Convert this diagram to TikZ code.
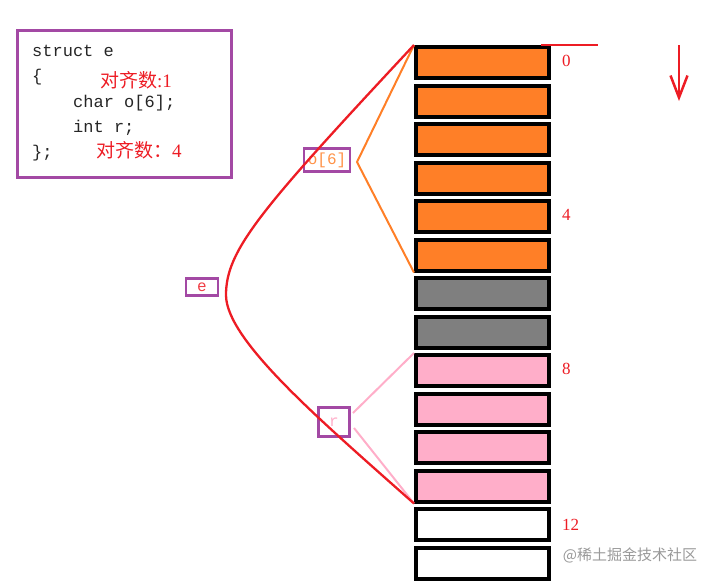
\documentclass[tikz,border=0pt]{standalone}
\usepackage{fontspec}
\setmainfont{Liberation Serif}
\setmonofont{Liberation Mono}
\newfontfamily\cjk{Noto Sans CJK SC}
\usetikzlibrary{arrows.meta,calc}
\newcommand\myfs[1]{\fontsize{#1}{#1}\selectfont}
\definecolor{porange}{HTML}{FF7F27}
\definecolor{pgray}{HTML}{7F7F7F}
\definecolor{ppink}{HTML}{FFAEC9}
\definecolor{ppurple}{HTML}{A349A4}
\definecolor{pred}{HTML}{ED1C24}
\tikzset{
  cell/.style={draw=black, line width=4pt, minimum width=133pt, minimum height=31pt, inner sep=0pt},
  tag/.style={draw=ppurple, line width=2.6pt, inner sep=0pt, font=\ttfamily\myfs{16pt}},
  code/.style={anchor=base west, inner sep=0pt, font=\ttfamily\myfs{17pt}, text=black!85},
  note/.style={anchor=base west, inner sep=0pt, font=\myfs{19pt}, text=pred},
  offs/.style={anchor=west, inner sep=0pt, font=\myfs{17pt}, text=pred},
  redline/.style={draw=pred, line width=2.3pt},
}
\begin{document}
\begin{tikzpicture}[x=1pt,y=-1pt]
\useasboundingbox (0,0) rectangle (715,582);
% code box
\node (codebox) [draw=ppurple, line width=3pt, minimum width=214pt, minimum height=147pt, inner sep=0pt] at (124.5,104) {};
\node (c1) [code] at (32,56) {struct e};
\node (c2) [code] at (32,81) {\{};
\node (c3) [code] at (73,107) {char o[6];};
\node (c4) [code] at (73,132) {int r;};
\node (c5) [code] at (32,157) {\};};
\node (n1) [note] at (100,87) {{\cjk 对齐数}:1};
\node (n2) [note] at (96,157) {{\cjk 对齐数：}4};
% memory cells
\foreach \i in {0,...,5}{
  \node (b\i) [cell, fill=porange] at (482.5,62.5+38.5*\i) {};
}
\foreach \i in {6,7}{
  \node (b\i) [cell, fill=pgray] at (482.5,62.5+38.5*\i) {};
}
\foreach \i in {8,...,11}{
  \node (b\i) [cell, fill=ppink] at (482.5,62.5+38.5*\i) {};
}
\foreach \i in {12,13}{
  \node (b\i) [cell, fill=white] at (482.5,62.5+38.5*\i) {};
}
% offsets
\node (o0) [offs] at (562,61) {0};
\node (o4) [offs] at (562,215) {4};
\node (o8) [offs] at (562,369) {8};
\node (o12) [offs] at (562,525) {12};
% tags
\node (to) [tag, minimum width=46pt, minimum height=23pt, text=porange!85] at (327,160) {o[6]};
\node (te) [tag, minimum width=32pt, minimum height=17pt, text=pred!85] at (202,287) {e};
\node (tr) [tag, minimum width=31pt, minimum height=29pt, text=ppink] at (334,422) {r};
% orange brace
\coordinate (oa) at (357,162);
\draw[porange, line width=2pt] (b0.north west) -- (oa) -- (b5.south west);
% pink brace
\coordinate (pa) at (353,413);
\coordinate (pb) at (354,428);
\draw[ppink, line width=2pt] (pa) -- (b8.north west);
\draw[ppink, line width=2pt] (pb) -- (b11.south west);
% red curve
\coordinate (rl) at (226,295);
\draw[redline] (b0.north west) .. controls (260,210) and (226,250) .. (rl)
  .. controls (226,340) and (320,420) .. (b11.south west);
% top red line and arrow
\coordinate (t1) at (541,45);
\coordinate (t2) at (598,45);
\draw[redline] (t1) -- (t2);
\coordinate (a1) at (679,45);
\coordinate (a2) at (679,101);
\draw[pred, line width=2.5pt, -{Straight Barb[length=22pt,width=17pt,line width=2.5pt]}] (a1) -- (a2);
% watermark
\node (wm) [inner sep=0pt, text=black!40, font=\cjk\myfs{15pt}] at (630,555) {@稀土掘金技术社区};
\end{tikzpicture}
\end{document}
